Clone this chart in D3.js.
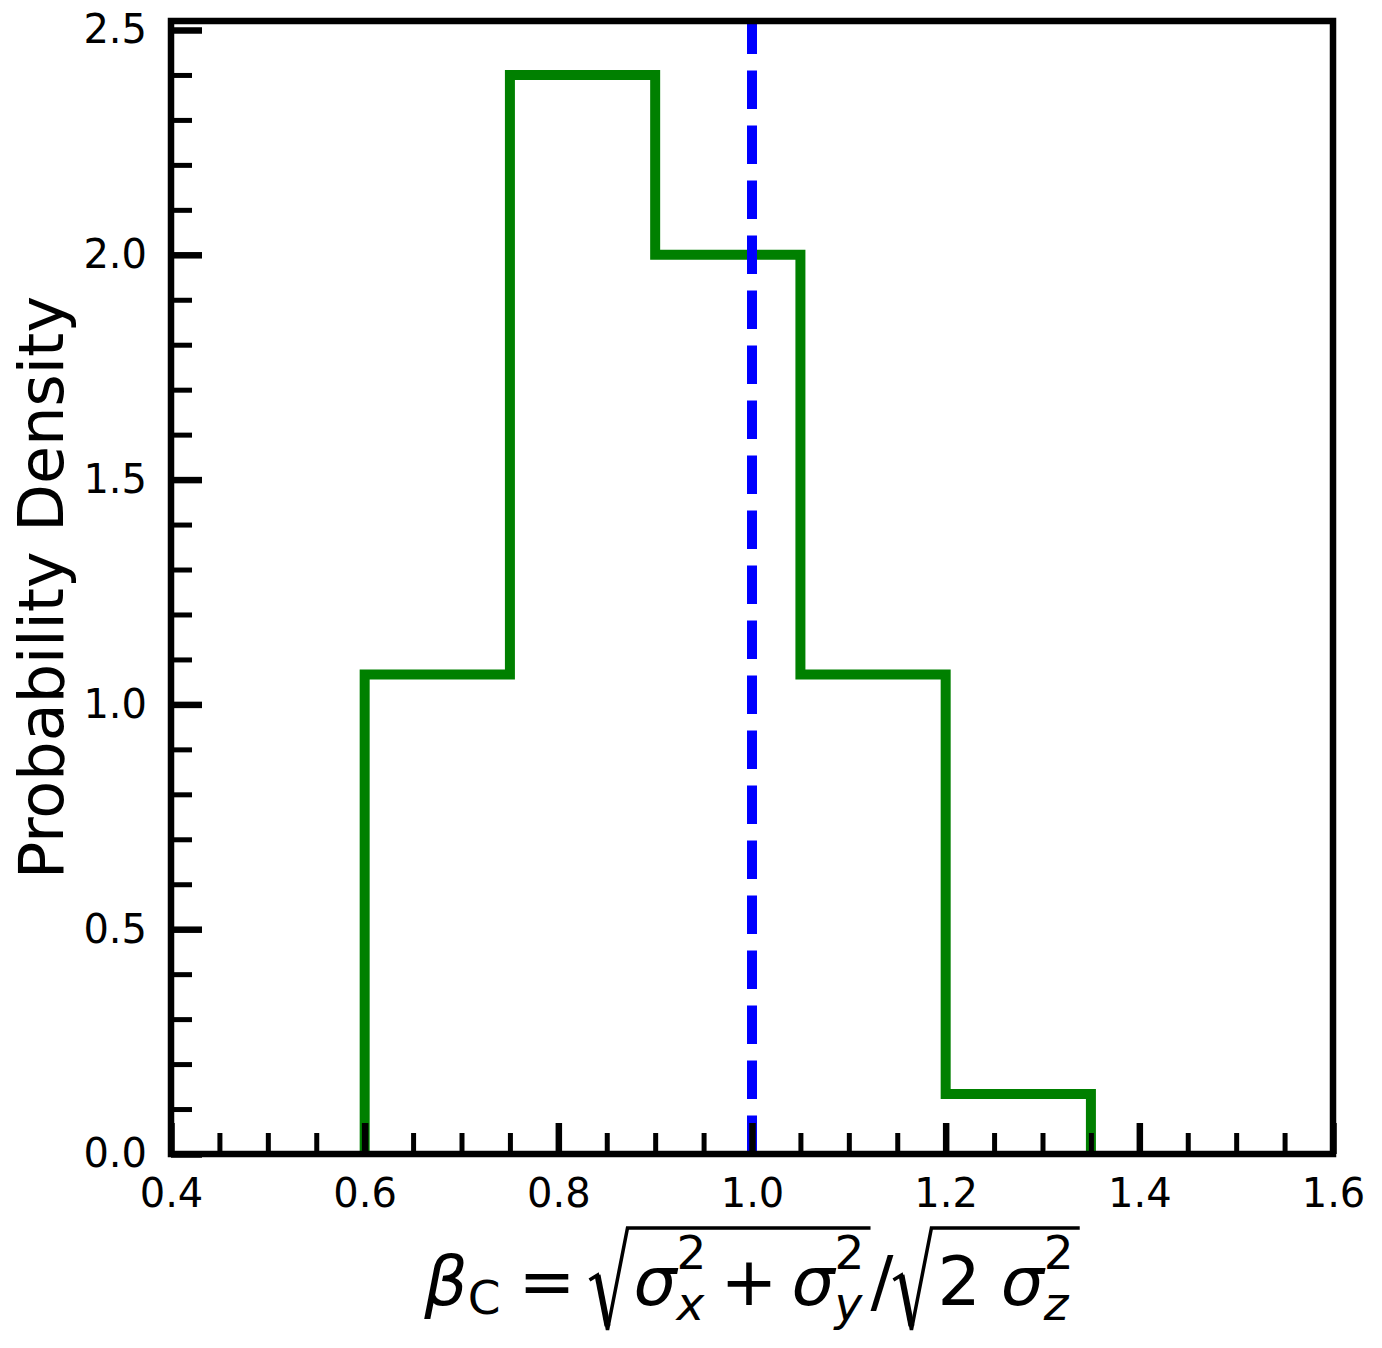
<!DOCTYPE html>
<html>
<head>
<meta charset="utf-8">
<script src="https://cdn.jsdelivr.net/npm/d3@7"></script>
<style>
  body { margin: 0; background: #fff; }
  text { font-family: "DejaVu Sans", sans-serif; fill: #000; }
</style>
</head>
<body>
<div id="chart"></div>
<script>
// ---- data
var binEdges = [0.6, 0.75, 0.9, 1.05, 1.2, 1.35];
var density = [1.0667, 2.4, 2.0, 1.0667, 0.1333];
var refValue = 1.0;
var xMajorTicks = [0.4, 0.6, 0.8, 1.0, 1.2, 1.4, 1.6];
var yMajorTicks = [0.0, 0.5, 1.0, 1.5, 2.0, 2.5];
var yLabelText = "Probability Density";

var svgWidth = 1382, svgHeight = 1348;
// plot box (note: "top" is a reserved global in browsers, so use other names)
var plotLeft = 171, plotRight = 1333, plotTop = 21, plotBottom = 1154;

var svg = d3.select("#chart").append("svg")
  .attr("width", svgWidth)
  .attr("height", svgHeight);

var x = d3.scaleLinear().domain([0.4, 1.6]).range([plotLeft, plotRight]);
var y = d3.scaleLinear().domain([0, 2.52]).range([plotBottom, plotTop]);

// minor tick positions (every 0.05 on x, every 0.1 on y)
var xMinor = d3.range(0, 25).map(function(i){ return +(0.4 + i * 0.05).toFixed(2); })
  .filter(function(v){ return xMajorTicks.indexOf(v) < 0; });
var yMinor = d3.range(0, 26).map(function(i){ return +(i * 0.1).toFixed(1); })
  .filter(function(v){ return yMajorTicks.indexOf(v) < 0; });

// ---- histogram step line
var pts = [[binEdges[0], 0]];
density.forEach(function(d, i){ pts.push([binEdges[i], d]); });
pts.push([binEdges[binEdges.length - 1], 0]);

var line = d3.line()
  .x(function(d){ return x(d[0]); })
  .y(function(d){ return y(d[1]); })
  .curve(d3.curveStepAfter);

svg.append("path")
  .datum(pts)
  .attr("d", line)
  .attr("fill", "none")
  .attr("stroke", "#008000")
  .attr("stroke-width", 10)
  .attr("stroke-linejoin", "miter");

// ---- dashed reference line (drawn bottom -> top so dash starts at the axis)
svg.append("line")
  .attr("x1", x(refValue)).attr("x2", x(refValue))
  .attr("y1", y(0)).attr("y2", y(2.52))
  .attr("stroke", "#0000ff")
  .attr("stroke-width", 10)
  .attr("stroke-dasharray", "38.5 16.5");

// ---- axes (ticks pointing inward)
var xAxisG = svg.append("g").attr("transform", "translate(0," + plotBottom + ")");
xAxisG.call(d3.axisBottom(x).tickValues(xMinor).tickSize(-21).tickFormat(""));
xAxisG.selectAll("line").attr("stroke-width", 5);
var xAxisMajor = svg.append("g").attr("transform", "translate(0," + plotBottom + ")");
xAxisMajor.call(d3.axisBottom(x).tickValues(xMajorTicks).tickSize(-31).tickPadding(25)
  .tickFormat(d3.format(".1f")));
xAxisMajor.selectAll("line").attr("stroke-width", 6.5);

var yAxisG = svg.append("g").attr("transform", "translate(" + plotLeft + ",0)");
yAxisG.call(d3.axisLeft(y).tickValues(yMinor).tickSize(-21).tickFormat(""));
yAxisG.selectAll("line").attr("stroke-width", 5);
var yAxisMajor = svg.append("g").attr("transform", "translate(" + plotLeft + ",0)");
yAxisMajor.call(d3.axisLeft(y).tickValues(yMajorTicks).tickSize(-31).tickPadding(24)
  .tickFormat(d3.format(".1f")));
yAxisMajor.selectAll("line").attr("stroke-width", 6.5);

svg.selectAll(".domain").remove();
svg.selectAll(".tick text")
  .style("font-family", "DejaVu Sans")
  .style("font-size", "40px")
  .attr("fill", "#000");

// frame
svg.append("rect")
  .attr("x", plotLeft).attr("y", plotTop)
  .attr("width", plotRight - plotLeft).attr("height", plotBottom - plotTop)
  .attr("fill", "none")
  .attr("stroke", "#000")
  .attr("stroke-width", 6.5);

// ---- y label
svg.append("text")
  .attr("transform", "translate(63," + ((plotTop + plotBottom) / 2) + ") rotate(-90)")
  .attr("text-anchor", "middle")
  .style("font-size", "62px")
  .text(yLabelText);

// ---- x label: beta_C = sqrt(sigma_x^2 + sigma_y^2) / sqrt(2 sigma_z^2)
var F = 68, S = 47, base = 1305;
var lab = svg.append("g");
var cx = 0;
function piece(txt, size, italic, dy){
  var t = lab.append("text")
    .attr("x", cx).attr("y", base + (dy || 0))
    .style("font-size", size + "px")
    .style("font-style", italic ? "italic" : "normal")
    .text(txt);
  return t.node().getComputedTextLength();
}
function supsub(sub){
  var w1 = piece("2", S, false, -36);
  var w2 = piece(sub, S, true, 15);
  cx += Math.max(w1, w2);
}
function radical(x0, x1){
  var t = 1228, b = 1330;
  lab.append("path")
    .attr("d", "M" + x0 + "," + (t + 52) + " L" + (x0 + 8) + "," + (t + 47) +
      " L" + (x0 + 18) + "," + b + " L" + (x0 + 38) + "," + t + " L" + x1 + "," + t)
    .attr("fill", "none")
    .attr("stroke", "#000")
    .attr("stroke-width", 3.5)
    .attr("stroke-linejoin", "miter");
  lab.append("line")
    .attr("x1", x0 + 8).attr("y1", t + 47)
    .attr("x2", x0 + 18).attr("y2", b - 4)
    .attr("stroke", "#000").attr("stroke-width", 6);
}
cx += piece("\u03b2", F, true);
cx += piece("C", S, false, 9);
cx += 18;
cx += piece("=", F, false);
cx += 14;
var r1 = cx; cx += 44;
cx += piece("\u03c3", F, true);
supsub("x");
cx += 14;
cx += piece("+", F, false);
cx += 14;
cx += piece("\u03c3", F, true);
supsub("y");
cx += 6;
var r1end = cx;
cx += piece("/", F, false);
var r2 = cx; cx += 44;
cx += piece("2", F, false);
cx += 20;
cx += piece("\u03c3", F, true);
supsub("z");
cx += 6;
radical(r1, r1end);
radical(r2, cx);
lab.attr("transform", "translate(" + ((plotLeft + plotRight) / 2 - cx / 2) + ",0)");
</script>
</body>
</html>
